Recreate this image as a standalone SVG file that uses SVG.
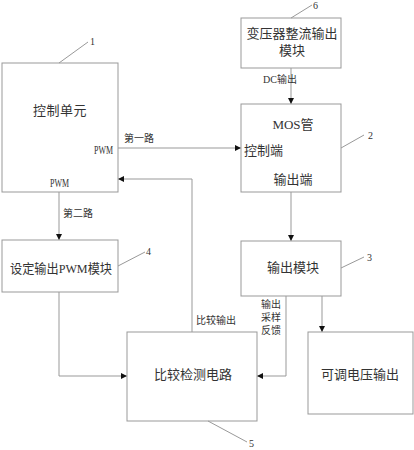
<svg xmlns="http://www.w3.org/2000/svg" width="414" height="450" viewBox="0 0 414 450">
<style>
.box{fill:#fff;stroke:#999;stroke-width:1}
.ln{fill:none;stroke:#999;stroke-width:1}
.t{font-family:"Liberation Serif","Noto Sans CJK SC",serif;fill:#333;font-size:13px}
.s{font-size:10px}
.p{font-size:12px}
.m{text-anchor:middle}
</style>
<defs>
<marker id="ar" viewBox="0 0 10 10" refX="10" refY="5" markerWidth="6" markerHeight="6" orient="auto" markerUnits="userSpaceOnUse">
<path d="M0,0L10,5L0,10z" fill="#111"/>
</marker>
</defs>
<rect width="414" height="450" fill="#fff"/>
<g id="connectors">
<path class="ln" d="M118,148H241" marker-end="url(#ar)"/>
<path class="ln" d="M291,68V104" marker-end="url(#ar)"/>
<path class="ln" d="M291,192V241" marker-end="url(#ar)"/>
<path class="ln" d="M59,192V240" marker-end="url(#ar)"/>
<path class="ln" d="M59,292V376H127" marker-end="url(#ar)"/>
<path class="ln" d="M286,296V376H257" marker-end="url(#ar)"/>
<path class="ln" d="M322,296V332" marker-end="url(#ar)"/>
<path class="ln" d="M192,332V179H118" marker-end="url(#ar)"/>
<text class="t s" x="124" y="142">第一路</text>
<text class="t s" x="63" y="217">第二路</text>
<text class="t s" x="263" y="83">DC输出</text>
<text class="t s" x="196" y="324">比较输出</text>
<text class="t s" x="261" y="308">输出</text>
<text class="t s" x="261" y="321">采样</text>
<text class="t s" x="261" y="334">反馈</text>
</g>
<g id="n1">
<rect class="box" x="2" y="63" width="116" height="129"/>
<text class="t m" x="60" y="115" letter-spacing="0.5">控制单元</text>
<text class="t p" x="94" y="154" textLength="19" lengthAdjust="spacingAndGlyphs">PWM</text>
<text class="t p" x="50" y="187" textLength="19" lengthAdjust="spacingAndGlyphs">PWM</text>
<path class="ln" d="M59,63L88,42"/>
<text class="t s" x="90" y="45">1</text>
</g>
<g id="n6">
<rect class="box" x="241" y="18" width="100" height="50"/>
<text class="t m" x="292" y="38">变压器整流输出</text>
<text class="t m" x="292" y="55">模块</text>
<path class="ln" d="M291,18L312,5"/>
<text class="t s" x="313" y="9">6</text>
</g>
<g id="n2">
<rect class="box" x="241" y="104" width="100" height="88"/>
<text class="t m" x="293" y="129">MOS管</text>
<text class="t" x="244" y="155">控制端</text>
<text class="t m" x="293" y="184">输出端</text>
<path class="ln" d="M341,148L364,135"/>
<text class="t s" x="368" y="139">2</text>
</g>
<g id="n3">
<rect class="box" x="241" y="241" width="100" height="55"/>
<text class="t m" x="293" y="272">输出模块</text>
<path class="ln" d="M341,268L364,257"/>
<text class="t s" x="367" y="261">3</text>
</g>
<g id="n4">
<rect class="box" x="2" y="240" width="116" height="52"/>
<text class="t m" x="61" y="273" textLength="102" lengthAdjust="spacingAndGlyphs">设定输出PWM模块</text>
<path class="ln" d="M118,266L145,252"/>
<text class="t s" x="146" y="255">4</text>
</g>
<g id="n5">
<rect class="box" x="127" y="332" width="130" height="89"/>
<text class="t m" x="193" y="379">比较检测电路</text>
<path class="ln" d="M208,421L247,442"/>
<text class="t s" x="249" y="447">5</text>
</g>
<g id="n7">
<rect class="box" x="308" y="332" width="105" height="82"/>
<text class="t m" x="360" y="379">可调电压输出</text>
</g>
</svg>
